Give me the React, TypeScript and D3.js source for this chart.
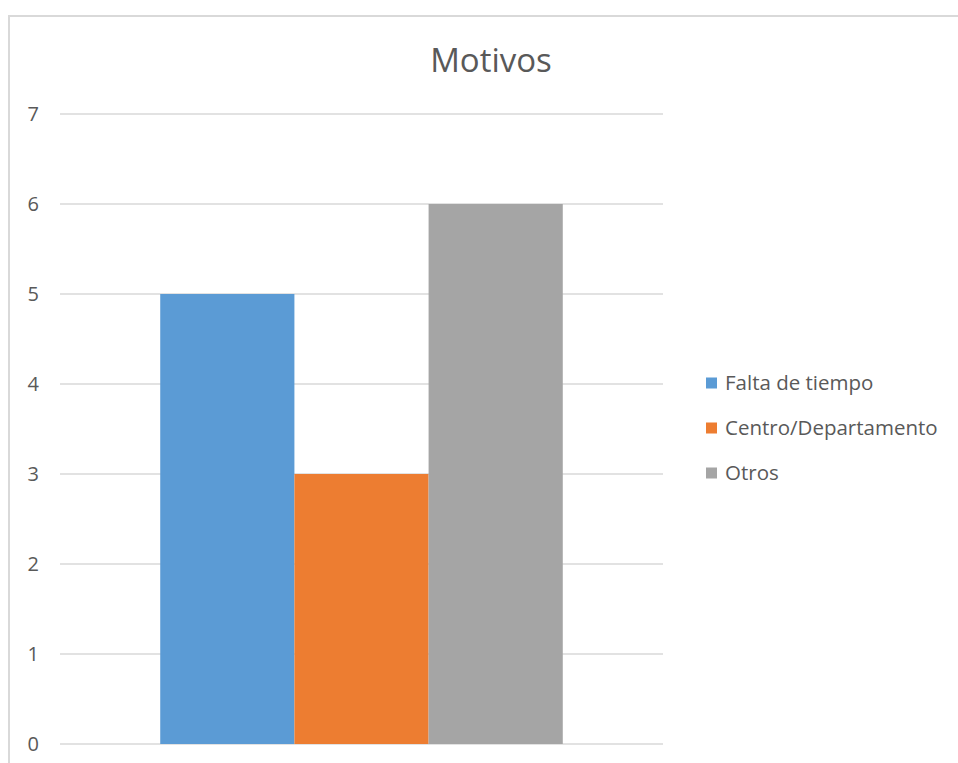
import React from "react";
import * as d3 from "d3";

const categories = ["Motivos"];
const seriesNames = ["Falta de tiempo", "Centro/Departamento", "Otros"];
const seriesValues = [5, 3, 6];
const seriesColors = ["#5B9BD5", "#ED7D31", "#A5A5A5"];
const yTicks = [0, 1, 2, 3, 4, 5, 6, 7];
const title = "Motivos";

const FONT = "'Open Sans', 'Noto Sans', sans-serif";

export default function App() {
  const W = 958, H = 763;
  const plotLeft = 60, plotRight = 663, plotTop = 114, plotBottom = 744;
  const y = d3.scaleLinear().domain([0, 7]).range([plotBottom, plotTop]);
  const x0 = d3.scaleBand<string>().domain(categories).range([plotLeft, plotRight]).paddingInner(0).paddingOuter(0.249);
  const x1 = d3.scaleBand<string>().domain(seriesNames).range([0, x0.bandwidth()]).padding(0);

  return (
    <svg width={W} height={H} style={{ position: "absolute", left: 0, top: 0, display: "block" }} fontFamily={FONT}>
      <rect x={0} y={0} width={W} height={H} fill="#ffffff" />
      <rect x={9} y={16} width={W + 20} height={H + 20} fill="none" stroke="#d9d9d9" strokeWidth={2} />
      <text x={491} y={72} textAnchor="middle" fontSize={33} fill="#595959">{title}</text>
      {yTicks.map((t) => (
        <g key={t}>
          <line x1={plotLeft} x2={plotRight} y1={y(t)} y2={y(t)} stroke="#d9d9d9" strokeWidth={1.3} />
          <text x={39} y={y(t)} dy="0.35em" textAnchor="end" fontSize={20} fill="#595959">{t}</text>
        </g>
      ))}
      {categories.map((c) => (
        <g key={c} transform={`translate(${x0(c)},0)`}>
          {seriesNames.map((s, i) => (
            <rect key={s} x={x1(s)} y={y(seriesValues[i])} width={x1.bandwidth()} height={y(0) - y(seriesValues[i])} fill={seriesColors[i]} />
          ))}
        </g>
      ))}
      {seriesNames.map((s, i) => (
        <g key={s} transform={`translate(706,${383 + i * 45})`}>
          <rect x={0} y={-5.5} width={11} height={11} fill={seriesColors[i]} />
          <text x={19} y={0} dy="0.35em" fontSize={20.5} fill="#595959">{s}</text>
        </g>
      ))}
    </svg>
  );
}
